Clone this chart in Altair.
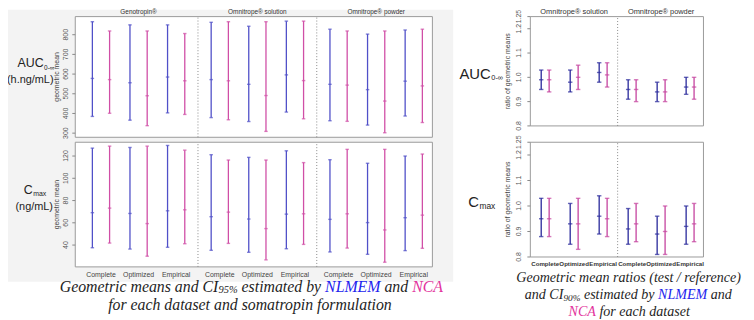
import altair as alt
import pandas as pd

# ---------------- data ----------------
datasets = ["Complete", "Optimized", "Empirical"]
methods = ["NLMEM", "NCA"]
left_formulations = ["Genotropin®", "Omnitrope® solution", "Omnitrope® powder"]
right_formulations = ["Omnitrope® solution", "Omnitrope® powder"]

# geometric means and CI95% (order: formulation > dataset > method)
auc_mean = [578, 572, 556, 490, 585, 566, 572, 566, 548, 491, 596, 567, 548, 544, 521, 463, 564, 540]
auc_low = [385, 401, 366, 338, 403, 395, 379, 368, 359, 309, 407, 373, 363, 360, 341, 302, 387, 354]
auc_high = [866, 819, 850, 819, 850, 806, 863, 866, 843, 866, 869, 869, 828, 819, 803, 819, 824, 828]

cmax_mean = [69.1, 73.2, 68.4, 59.3, 70.8, 71.7, 65.5, 69.6, 63.4, 54.8, 67.8, 68.1, 63.1, 68.1, 60.2, 53.6, 64.6, 66.9]
cmax_low = [37.6, 41.8, 36.4, 30.0, 38.0, 41.2, 35.3, 41.5, 33.5, 26.7, 36.7, 40.6, 33.8, 37.3, 31.7, 24.6, 35.0, 37.1]
cmax_high = [127.1, 128.9, 127.7, 128.9, 129.5, 125.3, 121.2, 116.4, 118.8, 116.4, 124.7, 114.1, 116.7, 126.0, 113.5, 126.0, 120.0, 121.8]

# geometric mean ratios and CI90%
rauc_mean = [0.99, 0.99, 0.98, 1.00, 1.02, 1.01, 0.95, 0.95, 0.94, 0.94, 0.96, 0.96]
rauc_low = [0.95, 0.94, 0.94, 0.95, 0.98, 0.96, 0.91, 0.90, 0.90, 0.90, 0.93, 0.91]
rauc_high = [1.03, 1.03, 1.03, 1.05, 1.06, 1.06, 0.99, 0.99, 0.98, 0.99, 1.00, 1.00]

rcmax_mean = [0.95, 0.95, 0.93, 0.93, 0.96, 0.95, 0.91, 0.93, 0.89, 0.90, 0.92, 0.93]
rcmax_low = [0.88, 0.88, 0.85, 0.83, 0.89, 0.88, 0.85, 0.86, 0.81, 0.81, 0.85, 0.86]
rcmax_high = [1.03, 1.03, 1.01, 1.03, 1.04, 1.03, 0.99, 1.01, 0.96, 1.00, 1.00, 1.01]

# y tick values and labels
auc_ticks = [300, 400, 500, 600, 700, 800]
auc_tick_labels = ["300", "400", "500", "600", "700", "800"]
cmax_ticks = [40, 60, 80, 100, 120]
cmax_tick_labels = ["40", "60", "80", "100", "120"]
ratio_ticks = [0.8, 0.9, 1.0, 1.1, 1.2, 1.25]
ratio_tick_labels = ["0.8", "0.9", "1.0", "1.1", "1.2", "1.25"]

# ---------------- layout helpers ----------------
def P(v):
    return v - 8  # page px -> chart px (8px body margin)

SANS = "Liberation Sans"
SERIF = "Liberation Serif"
one = pd.DataFrame({"k": [0]})


def build(forms, fstep, moff, mean, low, high):
    out, i = [], 0
    for fi, f in enumerate(forms):
        for di, d in enumerate(datasets):
            for mi, m in enumerate(methods):
                out.append({"formulation": f, "dataset": d, "method": m,
                            "pos": fi * fstep + di + (moff if mi else -moff),
                            "mean": mean[i], "low": low[i], "high": high[i]})
                i += 1
    return pd.DataFrame(out)


def panel(df, forms, fstep, xdom, xpx, ydom, ypx, yvals, ylabels, ytitle, colors, cap,
          label_anchor, title_x, show_titles=False, title_px=11.5, title_size=7,
          show_labels=False, label_px=276, label_size=7, label_weight="normal",
          label_color="#444"):
    xs = alt.Scale(domain=xdom, range=[P(xpx[0]), P(xpx[1])], nice=False, zero=False)
    ys = alt.Scale(domain=ydom, range=[P(ypx[0]), P(ypx[1])], nice=False, zero=False)
    color = alt.Color("method:N", scale=alt.Scale(domain=methods, range=colors), legend=None)
    X = alt.X("pos:Q", scale=xs, axis=None)

    frame = alt.Chart(one).mark_rect(fill="white", stroke="#9a9a9a", strokeWidth=1).encode(
        x=alt.XDatum(xdom[0], type="quantitative", scale=xs, axis=None),
        x2=alt.X2Datum(xdom[1]),
        y=alt.YDatum(ydom[0], type="quantitative", scale=ys, axis=None),
        y2=alt.Y2Datum(ydom[1]))
    seps = [(fi * fstep + 2 + (fi + 1) * fstep) / 2 for fi in range(len(forms) - 1)]
    sep = alt.Chart(pd.DataFrame({"s": seps})).mark_rule(
        color="#8a8a8a", strokeDash=[1, 2], strokeWidth=1).encode(
        x=alt.X("s:Q", scale=xs, axis=None),
        y=alt.YDatum(ydom[0], type="quantitative", scale=ys, axis=None),
        y2=alt.Y2Datum(ydom[1]))
    tdf = pd.DataFrame({"v": yvals, "t": ylabels})
    yticks = alt.Chart(tdf).mark_rule(color="#888", strokeWidth=1).encode(
        x=alt.value(P(xpx[0]) - 3), x2=alt.value(P(xpx[0])),
        y=alt.Y("v:Q", scale=ys, axis=None))
    ylab = alt.Chart(tdf).mark_text(angle=270, font=SANS, fontSize=7, color="#555",
                                    align="center", baseline="bottom").encode(
        x=alt.value(P(label_anchor)), y=alt.Y("v:Q", scale=ys, axis=None), text="t:N")
    ytit = alt.Chart(one).mark_text(text=ytitle, angle=270, font=SANS, fontSize=7,
                                    color="#444", align="center", baseline="middle").encode(
        x=alt.value(P(title_x)), y=alt.value(P((ypx[0] + ypx[1]) / 2)))
    rules = alt.Chart(df).mark_rule(strokeWidth=1.3).encode(
        x=X, y=alt.Y("low:Q", scale=ys, axis=None), y2="high:Q", color=color)
    layers = [frame, sep, yticks, ylab, ytit, rules]
    for fld in ["low", "high", "mean"]:
        layers.append(alt.Chart(df).mark_tick(orient="horizontal", size=cap, thickness=1.4).encode(
            x=X, y=alt.Y(f"{fld}:Q", scale=ys, axis=None), color=color))
    if show_titles:
        fdf = pd.DataFrame({"f": forms, "c": [fi * fstep + 1 for fi in range(len(forms))]})
        layers.append(alt.Chart(fdf).mark_text(font=SANS, fontSize=title_size, color="#333",
                                               baseline="middle").encode(
            x=alt.X("c:Q", scale=xs, axis=None), y=alt.value(P(title_px)), text="f:N"))
    if show_labels:
        ldf = pd.DataFrame([{"c": fi * fstep + di, "d": d}
                            for fi in range(len(forms)) for di, d in enumerate(datasets)])
        layers.append(alt.Chart(ldf).mark_text(font=SANS, fontSize=label_size, color=label_color,
                                               fontWeight=label_weight, baseline="middle").encode(
            x=alt.X("c:Q", scale=xs, axis=None), y=alt.value(P(label_px)), text="d:N"))
    return alt.layer(*layers)


def text(s, x, y, size, align="center", font=SANS, color="#222", style="normal", weight="normal"):
    return alt.Chart(one).mark_text(text=s, font=font, fontSize=size, align=align,
                                    baseline="middle", color=color, fontStyle=style,
                                    fontWeight=weight).encode(x=alt.value(P(x)), y=alt.value(P(y)))


# Times-Italic advance widths (per 1000 em) for centring multi-coloured captions
TI = {' ': 250, '(': 333, ')': 333, '/': 278, '%': 833, '.': 250, '-': 333,
      'A': 611, 'C': 667, 'E': 611, 'G': 722, 'I': 333, 'L': 556, 'M': 833, 'N': 667,
      'a': 500, 'b': 500, 'c': 444, 'd': 500, 'e': 444, 'f': 278, 'g': 500, 'h': 500,
      'i': 278, 'l': 278, 'm': 722, 'n': 500, 'o': 500, 'p': 500, 'r': 389, 's': 389,
      't': 278, 'u': 500, 'y': 444}


def tw(s, size):
    return sum(TI.get(c, 500) for c in s) / 1000 * size


SUB = 0.66


def caption_line(pieces, cx, y, size):
    # pieces: (text, color, is_subscript); spaces are advanced, not drawn
    total = sum(tw(t, size * (SUB if sub else 1)) for t, _, sub in pieces)
    x = cx - total / 2
    out = []
    for t, col, sub in pieces:
        fs = size * (SUB if sub else 1)
        lead = len(t) - len(t.lstrip(" "))
        core = t.strip(" ")
        x += tw(" " * lead, fs)
        out.append(text(core, x, y + (3 if sub else 0), fs, align="left",
                        font=SERIF, color=col, style="italic"))
        x += tw(t.lstrip(" "), fs)
    return out


BLUE_T, PINK_T, INK = "#2323ee", "#e2339c", "#1e1e1e"

# ---------------- panels ----------------
L_XDOM = [-0.684, 8.816]
L_XPX = (76, 437)
R_XDOM = [-0.512, 5.461]
R_XPX = (536, 711)
L_COL = ["#5050c8", "#d04ea6"]
R_COL = ["#26269a", "#c4429e"]

lt = panel(build(left_formulations, 3.16, 0.229, auc_mean, auc_low, auc_high),
           left_formulations, 3.16, L_XDOM, L_XPX, [279, 892], (137, 15),
           auc_ticks, auc_tick_labels, "geometric mean", L_COL, 3.5, 70, 58,
           show_titles=True, title_px=10.5, title_size=6.5)
lb = panel(build(left_formulations, 3.16, 0.229, cmax_mean, cmax_low, cmax_high),
           left_formulations, 3.16, L_XDOM, L_XPX, [20.4, 132.4], (268, 142),
           cmax_ticks, cmax_tick_labels, "geometric mean", L_COL, 3.5, 70, 58,
           show_labels=True, label_px=276, label_size=7)
rt = panel(build(right_formulations, 3, 0.137, rauc_mean, rauc_low, rauc_high),
           right_formulations, 3, R_XDOM, R_XPX, [0.8, 1.25], (125.5, 15),
           ratio_ticks, ratio_tick_labels, "ratio of geometric means", R_COL, 4.5, 528, 513,
           show_titles=True, title_px=10.5, title_size=7.5)
rb = panel(build(right_formulations, 3, 0.137, rcmax_mean, rcmax_low, rcmax_high),
           right_formulations, 3, R_XDOM, R_XPX, [0.8, 1.25], (258, 142),
           ratio_ticks, ratio_tick_labels, "ratio of geometric means", R_COL, 4.5, 528, 513,
           show_labels=True, label_px=265, label_size=6.2,
           label_weight="bold", label_color="#333")

bg = alt.Chart(one).mark_rect(color="#f3f3f3").encode(
    x=alt.value(0), x2=alt.value(P(458)), y=alt.value(0), y2=alt.value(P(283)))

notes = [
    text("AUC", 44, 62, 12.5, align="right"),
    text("0-∞", 44.5, 66.5, 6.5, align="left"),
    text("(h.ng/mL)", 30.5, 79, 11),
    text("C", 33, 190.5, 12.5, align="right"),
    text("max", 33.5, 194.5, 7, align="left"),
    text("(ng/mL)", 34.5, 208, 11),
    text("AUC", 496, 73, 15, align="right"),
    text("0-∞", 496.5, 77.5, 7.5, align="left"),
    text("C", 484, 202, 15, align="right"),
    text("max", 484.5, 206.5, 8.5, align="left"),
]

LS, RS = 16, 14.2
notes += caption_line([("Geometric means and CI", INK, False), ("95%", INK, True),
                       (" estimated by ", INK, False), ("NLMEM", BLUE_T, False),
                       (" and ", INK, False), ("NCA", PINK_T, False)], 254, 288.5, LS)
notes += caption_line([("for each dataset and somatropin formulation", INK, False)], 253, 306.5, LS)
notes += caption_line([("Geometric mean ratios (test / reference)", INK, False)], 636, 279, RS)
notes += caption_line([("and CI", INK, False), ("90%", INK, True), (" estimated by ", INK, False),
                       ("NLMEM", BLUE_T, False), (" and", INK, False)], 635, 296.5, RS)
notes += caption_line([("NCA", PINK_T, False), (" for each dataset", INK, False)], 636, 313.5, RS)

chart = alt.layer(bg, lt, lb, rt, rb, *notes).resolve_scale(
    x="independent", y="independent", color="independent"
).properties(
    width=746, height=312, padding=0, background="white",
    autosize=alt.AutoSizeParams(type="none"),
).configure_view(strokeWidth=0)

chart.save("out.html", embed_options={"renderer": "svg", "actions": False})
